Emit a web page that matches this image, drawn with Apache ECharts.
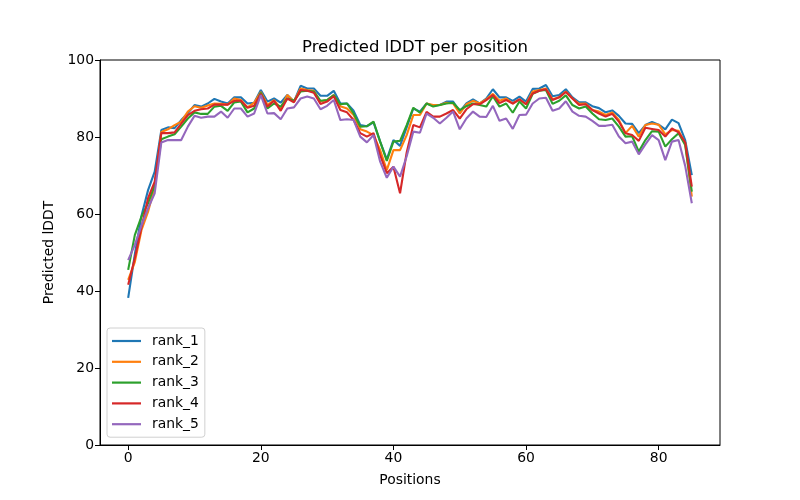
<!DOCTYPE html>
<html>
<head>
<meta charset="utf-8">
<script src="https://cdn.jsdelivr.net/npm/echarts@6/dist/echarts.min.js"></script>
<style>html,body{margin:0;padding:0;background:#fff}#chart{width:800px;height:500px}</style>
</head>
<body>
<div id="chart"></div>
<script>
const seriesNames = ['rank_1', 'rank_2', 'rank_3', 'rank_4', 'rank_5'];
const xTicks = [0, 20, 40, 60, 80];
const yTicks = [0, 20, 40, 60, 80, 100];

const rank_1 = [38.2,49.5,59.5,66.2,71,81.8,82.5,82.3,84.4,86.2,88.3,87.9,88.7,89.9,89.2,88.7,90.3,90.3,88.7,88.9,92.2,89.2,90,88.9,90.9,89.2,93.3,92.6,92.6,90.7,90.7,92,88.7,88.7,86.8,83.1,82.8,83.8,78.8,74.2,79.2,77.7,82.5,87.4,86.6,88.7,88.1,88.3,89.2,89.2,86.6,88.7,89.8,88.7,90,92.4,90.3,90.3,89.4,90.5,89.2,92.5,92.6,93.5,90.6,90.9,92.4,90.3,89,89,88,87.5,86.4,86.9,85.5,83.5,83.4,81,83.1,83.9,83.2,82,84.5,83.6,79.2,70.1];
const rank_2 = [42.9,47.5,55.8,60.6,67.1,81.3,82,83.1,84,86.6,88,87.6,88.2,88.7,88.6,88.4,90,89.6,87.7,88.9,91.7,88.3,89.6,87.4,90.9,89.2,92.6,92.2,92,89.2,89.6,90.9,88,87.4,85.7,82,81.4,80.5,76.6,71.4,76.6,76.6,80.5,85.7,85.7,88.7,88.3,88.3,88.9,88.7,86.1,88.5,89.4,88.7,89.8,91.2,89.4,90,88.7,89.8,88.5,91.8,92.2,92.6,89.8,90.3,91.8,90,88.6,88.7,87,86.6,85.7,86.4,84.4,81,82.9,80.1,83.1,83.5,83.2,80.7,81.8,81.6,78.4,64.5];
const rank_3 = [45.5,54.5,59.3,62.8,67.5,79.4,80.1,80.7,82.7,84.8,86.4,86,86,87.9,88.1,86.8,89,89.2,86.4,87.4,91.5,87.4,88.7,87.9,90,89.4,91.8,92,91.8,89.4,89.6,90.9,88.5,88.7,86.1,82.7,82.8,84,78.8,73.8,78.8,79,83.1,87.6,86.3,88.7,87.9,88.3,88.7,88.9,87,88,88.7,88.3,87.9,90.6,87.9,88.7,86.3,89.2,87.4,91.2,92,92.2,88.6,89.4,90.8,88.3,87.4,87.9,86.1,84.6,84.4,84.8,82.7,80.1,80.2,76.2,79.2,81.5,81.4,77.5,79.4,81,77.9,65.8];
const rank_4 = [41.6,48.5,56.5,64.1,68.4,81,81,81.2,83.5,85.7,86.8,87.2,87.4,88.4,88.4,88.4,89.4,89.4,87.6,88.1,91.2,87.9,89.4,86.8,90,89,92.2,92,91.5,88.6,89.2,90.6,87,86.4,84.4,81,80.1,81,75.3,70.6,72.3,65.4,76,83.1,82.5,86.5,85.3,85.3,86.1,87,84.8,87.2,88.5,88.5,89.6,90.9,88.8,89.6,88.7,89.8,88.5,91.3,92,92.4,89.6,90.3,91.7,90,88.3,88.5,87,86.1,85.3,86,84,81,80.5,79,82.4,82.1,81.8,80.1,82.2,81.2,78.6,67.1];
const rank_5 = [48,52,57,61.5,65.4,78.6,79.2,79.2,79.2,82.7,85.5,85,85.3,85.3,86.6,85,87.4,87.4,85.3,86.1,90.9,86.1,86.2,84.6,87.4,87.7,90,90.5,90,87.2,88.1,89.6,84.4,84.6,84.4,80.1,78.6,80.5,73.6,69.4,72.3,69.7,75,81.4,81.1,86.1,85,83.5,85,86.6,82,84.8,86.6,85.3,85.2,88.1,84.2,84.8,82.1,85.7,85.8,88.7,90,90.2,86.8,87.4,89.3,86.6,85.5,85.3,84.2,82.9,82.9,83.2,80.1,78.4,78.8,75.5,78.1,80.5,79.2,74,78.8,79.2,72.5,62.8];

const allValues = [rank_1, rank_2, rank_3, rank_4, rank_5];
const colors = ['#1f77b4', '#ff7f0e', '#2ca02c', '#d62728', '#9467bd'];
const positions = rank_1.map((_, i) => i);

const font = 'DejaVu Sans';
const chart = echarts.init(document.getElementById('chart'), null, {renderer: 'canvas'});
chart.setOption({
  animation: false,
  backgroundColor: '#fff',
  textStyle: {fontFamily: font},
  title: {
    text: 'Predicted lDDT per position',
    left: 410, top: 34, textAlign: 'center',
    textStyle: {fontFamily: font, fontSize: 16.5, fontWeight: 'normal', color: '#000'}
  },
  grid: {left: 100, right: 80, top: 60, bottom: 55, show: true, borderColor: '#000', borderWidth: 1, backgroundColor: 'transparent'},
  legend: {
    orient: 'vertical', left: 107, top: 328,
    data: seriesNames,
    icon: 'rect', itemWidth: 29, itemHeight: 2.2, itemGap: 6.8,
    padding: [6, 6, 6, 5],
    backgroundColor: 'rgba(255,255,255,0.8)', borderColor: '#d0d0d0', borderWidth: 1, borderRadius: 3,
    textStyle: {fontFamily: font, fontSize: 13.9, color: '#000', lineHeight: 14, padding: [0, 0, 0, 6]}
  },
  xAxis: {
    type: 'value', min: -4.25, max: 89.25,
    name: 'Positions', nameLocation: 'middle', nameGap: 28,
    nameTextStyle: {fontFamily: font, fontSize: 13.9, color: '#000'},
    axisLine: {show: true, onZero: false, lineStyle: {color: '#000', width: 1}},
    axisTick: {show: true, length: 5, inside: false, customValues: xTicks, lineStyle: {color: '#000'}},
    axisLabel: {show: true, customValues: xTicks, margin: 6, fontFamily: font, fontSize: 13.9, color: '#000'},
    splitLine: {show: false}
  },
  yAxis: {
    type: 'value', min: 0, max: 100, interval: 20,
    name: 'Predicted lDDT', nameLocation: 'middle', nameGap: 42,
    nameTextStyle: {fontFamily: font, fontSize: 13.9, color: '#000'},
    axisLine: {show: true, onZero: false, lineStyle: {color: '#000', width: 1}},
    axisTick: {show: true, length: 5, lineStyle: {color: '#000'}},
    axisLabel: {margin: 6, fontFamily: font, fontSize: 13.9, color: '#000'},
    splitLine: {show: false}
  },
  series: seriesNames.map((name, k) => ({
    name: name, type: 'line',
    data: positions.map((p, i) => [p, allValues[k][i]]),
    showSymbol: false, symbol: 'none',
    itemStyle: {color: colors[k]},
    lineStyle: {color: colors[k], width: 2.1},
    z: 2 + k
  }))
});
</script>
</body>
</html>
